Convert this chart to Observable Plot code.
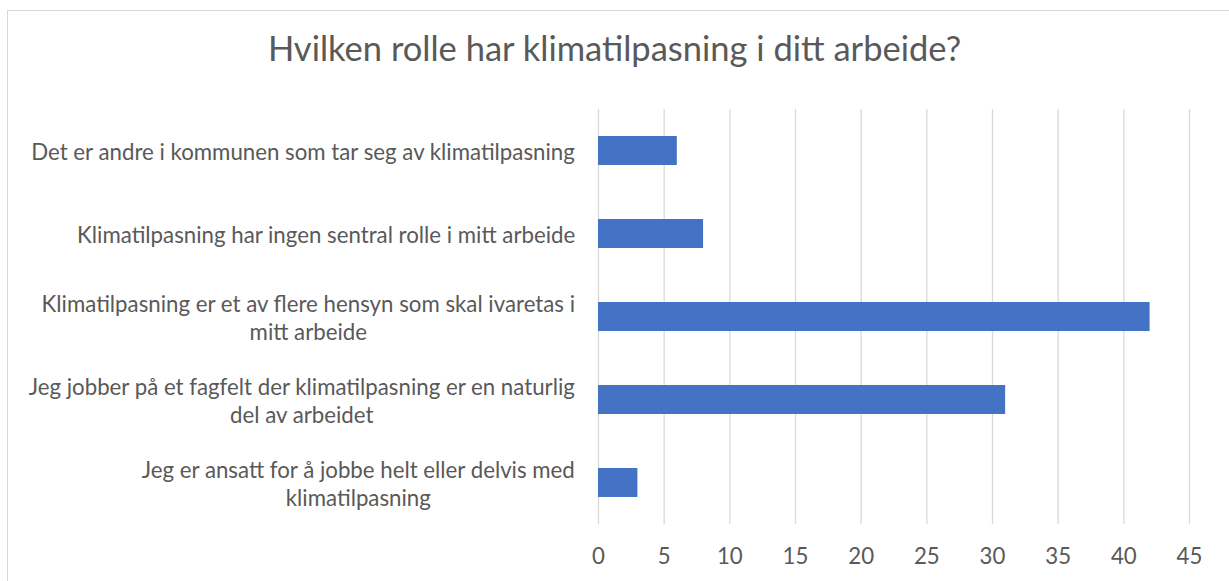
<!DOCTYPE html>
<html><head><meta charset="utf-8">
<script src="https://cdn.jsdelivr.net/npm/d3@7"></script>
<script src="https://cdn.jsdelivr.net/npm/@observablehq/plot@0.6"></script>
<style>
body{margin:0;background:#fff;}
#wrap{position:relative;width:1229px;height:581px;overflow:hidden;font-family:Lato,sans-serif;background:#fff;}
#frame{position:absolute;left:7px;top:10px;width:1400px;height:800px;border:1px solid #d9d9d9;box-sizing:border-box;}
#title{position:absolute;left:0;top:0;width:1229px;text-align:center;color:#595959;white-space:nowrap;}
#chart{position:absolute;left:0;top:0;}
</style>
</head><body>
<div id="wrap"><div id="frame"></div><div id="title"></div><div id="chart"></div></div>
<script>
const title = "Hvilken rolle har klimatilpasning i ditt arbeide?";
const categories = [
  "Det er andre i kommunen som tar seg av klimatilpasning",
  "Klimatilpasning har ingen sentral rolle i mitt arbeide",
  "Klimatilpasning er et av flere hensyn som skal ivaretas i\nmitt arbeide",
  "Jeg jobber på et fagfelt der klimatilpasning er en naturlig\ndel av arbeidet",
  "Jeg er ansatt for å jobbe helt eller delvis med\nklimatilpasning"
];
const values = [6, 8, 42, 31, 3];
const xTicks = [0, 5, 10, 15, 20, 25, 30, 35, 40, 45];

const FONT = "Lato";
const ctx = document.createElement("canvas").getContext("2d");
function measure(t, size){ ctx.font = `${size}px ${FONT}`; return ctx.measureText(t).width; }
function fit(t, target){ return 100 * target / measure(t, 100); }

const labelSize = fit(categories[0], 545);
const titleSize = fit(title, 694);

const t = document.getElementById("title");
t.textContent = title;
t.style.fontSize = titleSize + "px";
t.style.lineHeight = titleSize + "px";
t.style.top = (50 - titleSize * 0.55) + "px";

const data = categories.map((c, i) => ({label: c, value: values[i]}));

const labelMarks = data.map(d => {
  const w = d3.max(d.label.split("\n"), l => measure(l, labelSize));
  return Plot.text([d], {
    frameAnchor: "left", y: "label", text: "label",
    textAnchor: "middle", dx: -(23 + w / 2),
    fontSize: labelSize, lineHeight: 28 / labelSize, fill: "#595959"
  });
});

const chart = Plot.plot({
  width: 1229, height: 581,
  marginTop: 109, marginBottom: 57, marginLeft: 598, marginRight: 40,
  style: {fontFamily: FONT, color: "#595959", background: "transparent"},
  x: {domain: [0, 45], ticks: xTicks},
  y: {domain: categories, paddingInner: 0.65, paddingOuter: 0.325, axis: null},
  marks: [
    Plot.gridX(xTicks, {stroke: "#d9d9d9", strokeOpacity: 1, strokeWidth: 1.3}),
    Plot.barX(data, {x: "value", y: "label", fill: "#4472C4"}),
    Plot.axisX(xTicks, {tickSize: 0, tickPadding: 24, fontSize: labelSize, fill: "#595959", label: null}),
    ...labelMarks
  ]
});
document.getElementById("chart").appendChild(chart);
</script>
</body></html>
